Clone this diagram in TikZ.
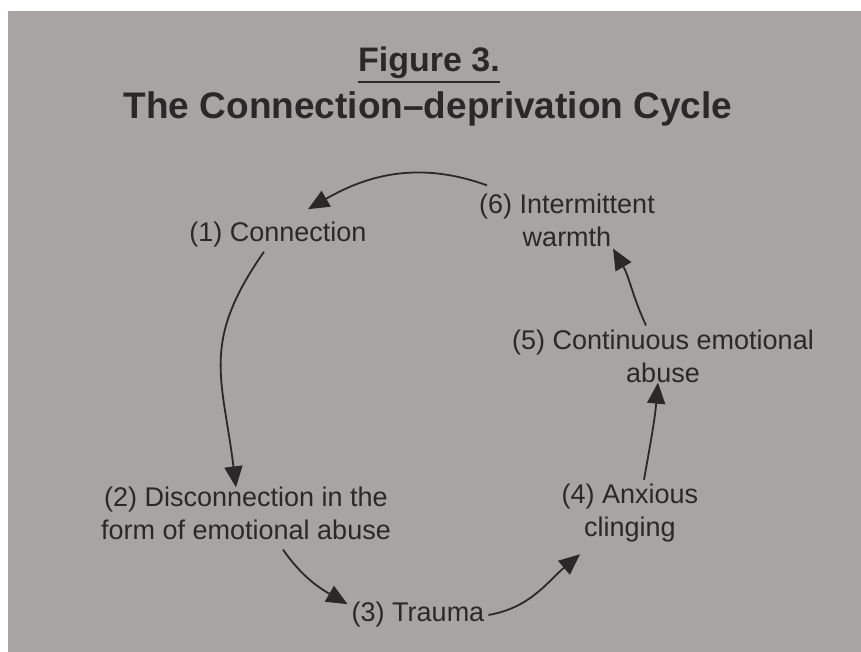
\documentclass[tikz,border=0pt]{standalone}
\usepackage{fontspec}
\setmainfont{Liberation Sans}
\usetikzlibrary{
    positioning,  % Relative positioning
    arrows.meta   % Modern arrow tips
}
\definecolor{pagegray}{RGB}{168,164,163}
\definecolor{inkgray}{RGB}{42,40,40}

\begin{document}
\begin{tikzpicture}[x=1pt,y=1pt,
    stage/.style={text=inkgray,align=center,inner sep=4pt,
        font=\fontsize{27}{33}\selectfont},
    cyc/.style={draw=inkgray,line width=1.8pt,
        -{Triangle[length=21pt,width=18pt]}}]
    \useasboundingbox (0,0) rectangle (861,-652);
    \fill[white] (0,0) rectangle (861,-652);
    \fill[pagegray] (8,-11) rectangle (861,-652);

    % title
    \node[text=inkgray,anchor=base,inner sep=0pt,font=\bfseries\fontsize{34}{40}\selectfont] (fig) at (429,-72) {Figure 3.};
    \draw[inkgray,line width=1.6pt] ([yshift=-10pt]fig.base west) -- ([yshift=-10pt]fig.base east);
    \node[text=inkgray,anchor=base,inner sep=0pt,font=\bfseries\fontsize{37}{44}\selectfont] (title) at (428,-119) {The Connection--deprivation Cycle};

    % stages of the cycle
    \node[stage] (s1) at (278,-235) {(1) Connection};
    \node[stage] (s2) at (246,-513) {(2) Disconnection in the\\form of emotional abuse};
    \node[stage] (s3) at (418,-615) {(3) Trauma};
    \node[stage] (s4) at (630,-513) {(4) Anxious\\clinging};
    \node[stage] (s5) at (663,-356) {(5) Continuous emotional\\abuse};
    \node[stage] (s6) at (567,-220) {(6) Intermittent\\warmth};

    % arrows
    \draw[cyc] ([xshift=-80pt,yshift=4pt]s6.north) to[out=160,in=30] ([xshift=30pt,yshift=9pt]s1.north);
    \draw[cyc] ([xshift=-14pt]s1.south) to[out=-125,in=97,looseness=1.2] ([xshift=-10pt,yshift=-5pt]s2.north);
    \draw[cyc] ([xshift=37pt,yshift=-6pt]s2.south) to[out=-55,in=150] ([yshift=-6pt]s3.north west);
    \draw[cyc] (s3.east) to[out=10,in=-140] ([xshift=-50pt,yshift=-8pt]s4.south);
    \draw[cyc] ([xshift=14pt]s4.north) to[out=80,in=-95] ([xshift=-5pt,yshift=4pt]s5.south);
    \draw[cyc] ([xshift=-17pt]s5.north) to[out=115,in=-60] ([xshift=46pt,yshift=2pt]s6.south);
\end{tikzpicture}
\end{document}
